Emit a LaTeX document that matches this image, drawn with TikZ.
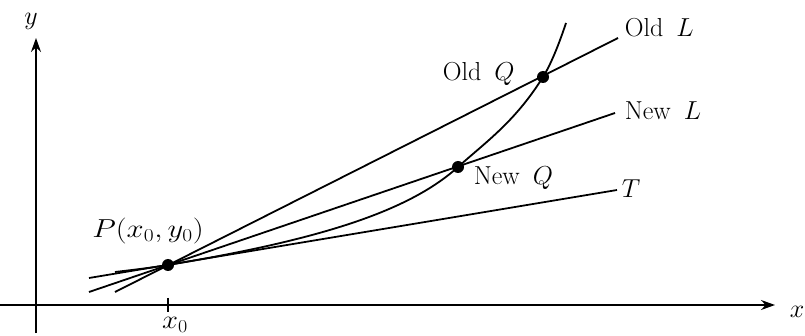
\RequirePackage{fix-cm}
\documentclass[tikz,border=0pt]{standalone}
\usetikzlibrary{arrows.meta}
\begin{document}
\begin{tikzpicture}[x=1pt,y=-1pt, line width=1.8pt,
  lbl/.style={font=\fontsize{26}{30}\selectfont, inner sep=0pt},
  dotm/.style={circle, fill, inner sep=0pt, minimum size=12pt},
  ax/.style={line width=1.5pt, -{Stealth[length=14pt,width=10pt]}}]
\useasboundingbox (0,0) rectangle (805,336);
% axes
\coordinate (xs) at (0,305);
\coordinate (xe) at (775,305);
\coordinate (ys) at (36,333);
\coordinate (ye) at (36,38);
\draw[ax] (xs) -- (xe);
\draw[ax] (ys) -- (ye);
\node[lbl] (xl) at (797,312) {$x$};
\node[lbl] (yl) at (31,21) {$y$};
% tick
\coordinate (t1) at (168,298);
\coordinate (t2) at (168,312);
\draw[line width=1.5pt] (t1) -- (t2);
\node[lbl] (x0) at (175,325) {\scalebox{1.1}[1]{$x_0$}};
% points
\coordinate (C0) at (115,272);
\coordinate (P) at (168,265);
\coordinate (NQ) at (458,167);
\coordinate (OQ) at (543,77);
\coordinate (CE) at (566,23);
% curve
\draw (C0) .. controls (132,270) and (151,267.8) .. (P)
      .. controls (318,240) and (408,212) .. (NQ)
      .. controls (486,141.8) and (515,121.8) .. (OQ)
      .. controls (551,64.2) and (559,44) .. (CE);
% lines
\coordinate (Ts) at (89,278);
\coordinate (Te) at (617,190);
\coordinate (NLs) at (89,292);
\coordinate (NLe) at (615,113);
\coordinate (OLs) at (115,292);
\coordinate (OLe) at (618,38);
\draw (Ts) -- (Te);
\draw (NLs) -- (NLe);
\draw (OLs) -- (OLe);
% dots
\node[dotm] (Pd) at (P) {};
\node[dotm] (NQd) at (NQ) {};
\node[dotm] (OQd) at (OQ) {};
% labels
\node[lbl, anchor=west] (lOL) at (624,28) {Old\hspace{0.5em}$L$};
\node[lbl, anchor=west] (lNL) at (624,111) {New\hspace{0.5em}$L$};
\node[lbl, anchor=west] (lT) at (621,189) {$T$};
\node[lbl, anchor=west] (lOQ) at (442,73.5) {Old\hspace{0.5em}$Q$};
\node[lbl, anchor=west] (lNQ) at (473,178.5) {New\hspace{0.5em}$Q$};
\node[lbl] (lP) at (148,231.5) {\scalebox{1.18}[1]{$P(x_0,y_0)$}};
\end{tikzpicture}
\end{document}
